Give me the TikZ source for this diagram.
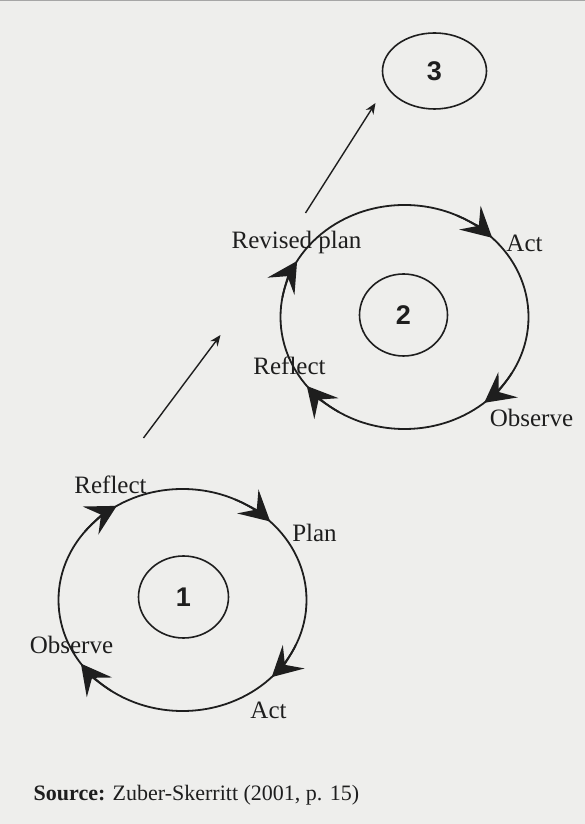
\documentclass[tikz,border=0pt]{standalone}
\usepackage{fontspec}
\setmainfont{Liberation Serif}
\newfontfamily\numfont{Liberation Sans}
\usetikzlibrary{arrows.meta,calc,shapes.geometric}
\definecolor{bg}{RGB}{238,238,236}
\definecolor{ink}{RGB}{30,30,30}
\begin{document}
\begin{tikzpicture}[x=1pt,y=1pt,
  cyclebox/.style={draw=ink, line width=1.8pt, ellipse, inner sep=0pt, outer sep=0pt},
  numbox/.style={draw=ink, line width=1.6pt, ellipse, inner sep=0pt, font=\numfont\bfseries\fontsize{27}{30}\selectfont, text=ink},
  lbl/.style={font=\fontsize{25}{30}\selectfont, text=ink, inner sep=0pt},
  headarc/.style={draw=ink, line width=1.8pt, -{Stealth[length=30pt,width=32pt,inset=12pt]}},
  link/.style={draw=ink, line width=1.4pt, -{Stealth[length=11pt,width=9pt]}}
]
\fill[bg] (0,0) rectangle (584,824);
\draw[gray!70, line width=1pt] (0,823.5) -- (584,823.5);

% cycle 1
\node[cyclebox, minimum width=248pt, minimum height=222pt] (cyc1) at (182,224) {};
\node[numbox, minimum width=90pt, minimum height=82pt] (n1) at (183,227) {1};
\foreach \t in {122,45,-44,215}{
  \draw[headarc] ($(cyc1.center)+({\t+20}:124 and 111)$) arc[start angle={\t+20}, end angle=\t, x radius=124, y radius=111];
}
\node[lbl] (r1) at (110,339) {Reflect};
\node[lbl] (p1) at (314,291) {Plan};
\node[lbl] (a1) at (268,114) {Act};
\node[lbl] (o1) at (71,179) {Observe};

% cycle 2
\node[cyclebox, minimum width=248pt, minimum height=224pt] (cyc2) at (404,507) {};
\node[numbox, minimum width=88pt, minimum height=82pt] (n2) at (403,509) {2};
\foreach \t in {150,45,-50,218}{
  \draw[headarc] ($(cyc2.center)+({\t+20}:124 and 112)$) arc[start angle={\t+20}, end angle=\t, x radius=124, y radius=112];
}
\node[lbl] (rp2) at (296,582) {Revised plan};
\node[lbl] (a2) at (524,581) {Act};
\node[lbl] (r2) at (289,458) {Reflect};
\node[lbl] (o2) at (531,406) {Observe};

% cycle 3
\node[numbox, minimum width=104pt, minimum height=76pt] (n3) at (434,753) {3};

% links
\coordinate (l1s) at (143,386);
\coordinate (l1e) at (220,489);
\coordinate (l2s) at (305,611);
\coordinate (l2e) at (375,721);
\draw[link] (l1s) -- (l1e);
\draw[link] (l2s) -- (l2e);

% source
\node[lbl, anchor=west, font=\fontsize{22}{26}\selectfont] (src) at (33,29) {\textbf{Source:} Zuber-Skerritt (2001, p. 15)};
\end{tikzpicture}
\end{document}
